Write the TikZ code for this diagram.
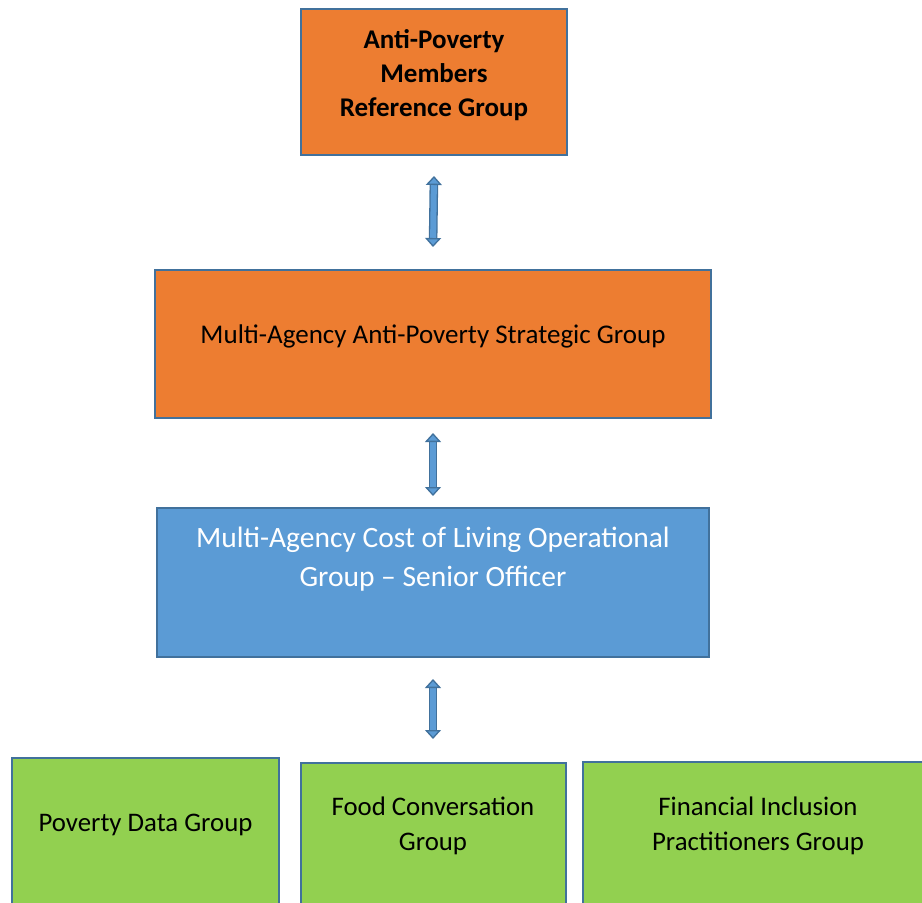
\documentclass[tikz,border=0pt]{standalone}
\usepackage{fontspec}
\setmainfont{Carlito}
\usetikzlibrary{arrows.meta,positioning}

\definecolor{boxorange}{HTML}{ED7D31}
\definecolor{boxblue}{HTML}{5B9BD5}
\definecolor{boxgreen}{HTML}{92D050}
\definecolor{boxline}{HTML}{41719C}

\tikzset{
  groupbox/.style={draw=boxline, line width=2pt, inner sep=0pt},
  groupname/.style={align=center, inner sep=0pt, font=\fontsize{26.8}{35}\selectfont},
  updown/.style={draw=boxline, line width=1.3pt, double=boxblue, double distance=6pt,
    {Triangle[width=16pt,length=9pt,fill=boxblue]}-{Triangle[width=16pt,length=9pt,fill=boxblue]}}
}

\begin{document}
\begin{tikzpicture}[x=1pt,y=-1pt]
            \useasboundingbox (0,0) rectangle (922,903);

            % Boxes
            \node[groupbox, fill=boxorange, minimum width=266pt, minimum height=146pt] (members) at (434,82) {};
            \node[groupbox, fill=boxorange, minimum width=556pt, minimum height=148pt] (strategic) at (433,344) {};
            \node[groupbox, fill=boxblue, minimum width=552pt, minimum height=149pt] (operational) at (433,582.5) {};
            \node[groupbox, fill=boxgreen, minimum width=267pt, minimum height=160pt] (datagroup) at (145.5,838) {};
            \node[groupbox, fill=boxgreen, minimum width=265pt, minimum height=155pt] (foodgroup) at (433,840.5) {};
            \node[groupbox, fill=boxgreen, minimum width=360pt, minimum height=156pt] (inclusion) at (763,840) {};

            % Names
            \node[groupname, font=\fontsize{27}{34}\selectfont\bfseries] at ([yshift=7pt]members.center) {Anti-Poverty\\Members\\Reference Group};
            \node[groupname, font=\fontsize{27}{34}\selectfont] at ([yshift=8pt]strategic.center) {Multi-Agency Anti-Poverty Strategic Group};
            \node[groupname, text=white, font=\fontsize{29.5}{39}\selectfont] at ([yshift=23pt]operational.center) {Multi-Agency Cost of Living Operational\\Group -- Senior Officer};
            \node[groupname] at (145.5,824.5) {Poverty Data Group};
            \node[groupname] at (433,826) {Food Conversation\\Group};
            \node[groupname] at (758,826) {Financial Inclusion\\Practitioners Group};

            % Arrows pointing both ways
            \draw[updown] ([yshift=-20pt]members.south) -- ([yshift=22pt]strategic.north);
            \draw[updown] ([yshift=-14pt]strategic.south) -- ([yshift=11pt]operational.north);
            \draw[updown] ([yshift=-21pt]operational.south) -- ([yshift=23pt]foodgroup.north);
          \end{tikzpicture}
\end{document}
